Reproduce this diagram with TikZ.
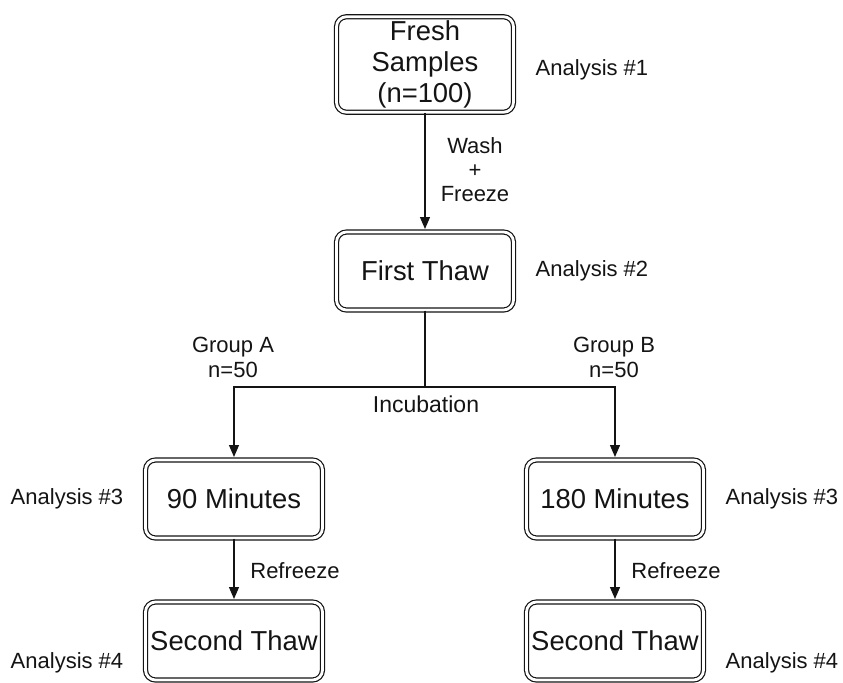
\documentclass[tikz,border=0pt]{standalone}
\usepackage{fontspec}
\setmainfont{Liberation Sans}
\usetikzlibrary{arrows.meta,positioning,calc}
\definecolor{FlowInk}{RGB}{20,20,20}
\tikzset{
  flow/box/.style={
    draw=FlowInk,
    double=white,
    double distance=1.4pt,
    line width=0.6pt,
    rounded corners=5pt,
    fill=white,
    align=center,
    text=FlowInk,
    minimum width=88.5pt,
    minimum height=39pt,
    inner sep=2pt,
    font=\fontsize{13.7}{15.5}\selectfont
  },
  flow/arrow/.style={-{Triangle[length=6pt,width=5pt]}, line width=0.65pt, draw=FlowInk, shorten >=1.2pt},
  flow/line/.style={line width=0.65pt, draw=FlowInk},
  flow/note/.style={font=\fontsize{11}{12}\selectfont, text=FlowInk, align=center, inner sep=0pt},
  flow/group/.style={font=\fontsize{11}{12.5}\selectfont, text=FlowInk, align=center, inner sep=0pt}
}
\begin{document}
\begin{tikzpicture}[x=0.5pt,y=-0.5pt]
  \useasboundingbox (0,0) rectangle (843,682);
  % boxes
  \node[flow/box,minimum height=46.5pt] (fresh) at (425,64.5) {Fresh\\Samples\\(n=100)};
  \node[flow/box] (thaw1) at (425,271) {First Thaw};
  \node[flow/box] (min90) at (234,499) {90 Minutes};
  \node[flow/box] (min180) at (615,499) {180 Minutes};
  \node[flow/box] (thawA) at (234,641) {Second Thaw};
  \node[flow/box] (thawB) at (615,641) {Second Thaw};
  % analysis labels
  \node[flow/note] (ana1) at (592,70) {Analysis \#1};
  \node[flow/note] (ana2) at (592,271) {Analysis \#2};
  \node[flow/note] (ana3a) at (67,499) {Analysis \#3};
  \node[flow/note] (ana3b) at (782,499) {Analysis \#3};
  \node[flow/note] (ana4a) at (67,663) {Analysis \#4};
  \node[flow/note] (ana4b) at (782,663) {Analysis \#4};
  % connectors
  \draw[flow/arrow] (fresh) -- (thaw1);
  \node[flow/note] (wash) at (475,170) {Wash\\+\\Freeze};
  \coordinate (split) at (425,387);
  \draw[flow/line] (thaw1) -- (split);
  \draw[flow/arrow] (split) -| (min90);
  \draw[flow/arrow] (split) -| (min180);
  \node[flow/group] (grpA) at (233,357) {Group A\\n=50};
  \node[flow/group] (grpB) at (614,357) {Group B\\n=50};
  \node[flow/note,font=\fontsize{11.5}{13}\selectfont] (incub) at (426,404) {Incubation};
  \draw[flow/arrow] (min90) -- (thawA);
  \draw[flow/arrow] (min180) -- (thawB);
  \node[flow/note] (refrA) at (295,571) {Refreeze};
  \node[flow/note] (refrB) at (676,571) {Refreeze};
\end{tikzpicture}
\end{document}
